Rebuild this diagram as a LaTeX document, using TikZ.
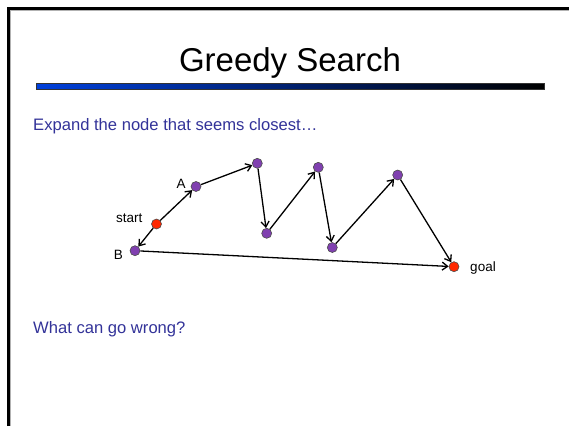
\documentclass[tikz,border=0pt]{standalone}
\usepackage{fontspec}
\setmainfont{Liberation Sans}
\usetikzlibrary{arrows.meta}
\definecolor{txtblue}{RGB}{51,51,153}
\definecolor{barblue}{RGB}{0,64,220}
\definecolor{vpurple}{RGB}{128,64,176}
\definecolor{vred}{RGB}{255,40,0}
\begin{document}
\begin{tikzpicture}[x=1pt,y=-1pt,
  vert/.style={circle,draw=black!70,line width=0.6pt,minimum size=10pt,inner sep=0pt},
  pnode/.style={vert,fill=vpurple},
  rnode/.style={vert,fill=vred},
  lbl/.style={font=\fontsize{13.5}{15}\selectfont,inner sep=0pt},
  edge/.style={-{Straight Barb[length=5.5pt,width=8pt]},line width=1.3pt}]
\useasboundingbox (0,0) rectangle (569,426);
\fill[white] (0,0) rectangle (569,426);
% frame
\draw[gray!60,line width=1pt] (10.7,426) -- (10.7,10.7) -- (569,10.7);
\draw[black,line width=2.4pt] (8.6,426) -- (8.6,8.6) -- (569,8.6);
% title
\node[font=\fontsize{33}{38}\selectfont,inner sep=0pt] (title) at (290,63) {Greedy Search};
\shade[left color=barblue,right color=black] (36,83.5) rectangle (544,89);
\draw[black!80,line width=0.4pt] (36,83.5) rectangle (544,89);
% texts
\node[font=\fontsize{16.6}{19}\selectfont,text=txtblue,anchor=west,inner sep=0pt] (t1) at (33,126) {Expand the node that seems closest…};
\node[font=\fontsize{16.6}{19}\selectfont,text=txtblue,anchor=west,inner sep=0pt] (t2) at (33,329) {What can go wrong?};
% nodes
\node[rnode] (start) at (156.5,224) {};
\node[pnode] (A) at (196,186.5) {};
\node[pnode] (t1n) at (257.3,163.3) {};
\node[pnode] (b1) at (266.7,233.3) {};
\node[pnode] (t2n) at (318.3,167.3) {};
\node[pnode] (b2) at (332.3,247.5) {};
\node[pnode] (t3) at (397.7,175) {};
\node[rnode] (goal) at (454,266.7) {};
\node[pnode] (B) at (135,250.7) {};
% labels
\node[lbl] (lstart) at (129.3,218.3) {start};
\node[lbl] (lA) at (181,183.5) {A};
\node[lbl] (lB) at (118.5,254.5) {B};
\node[lbl] (lgoal) at (483,268) {goal};
% edges
\draw[edge] (start) -- (A);
\draw[edge] (start) -- (B);
\draw[edge] (A) -- (t1n);
\draw[edge] (t1n) -- (b1);
\draw[edge] (b1) -- (t2n);
\draw[edge] (t2n) -- (b2);
\draw[edge] (b2) -- (t3);
\draw[edge] (t3) -- (goal);
\draw[edge] (B) -- (goal);
\end{tikzpicture}
\end{document}
